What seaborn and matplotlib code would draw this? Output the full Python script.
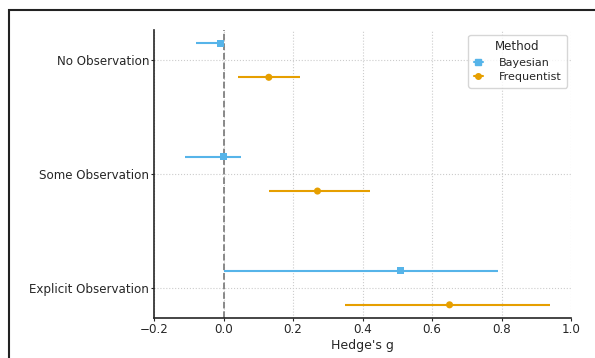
import numpy as np
import pandas as pd
import matplotlib.pyplot as plt
import seaborn as sns
from matplotlib.lines import Line2D
from matplotlib.patches import Rectangle

# Data
conditions = ["No Observation", "Some Observation", "Explicit Observation"]
methods = ["Bayesian", "Frequentist"]
bayes_est = [-0.01, 0.00, 0.51]
bayes_lo = [-0.08, -0.11, 0.00]
bayes_hi = [0.00, 0.05, 0.79]
freq_est = [0.13, 0.27, 0.65]
freq_lo = [0.04, 0.13, 0.35]
freq_hi = [0.22, 0.42, 0.94]

colors = {"Bayesian": "#56B4E9", "Frequentist": "#E69F00"}
markers = {"Bayesian": "s", "Frequentist": "o"}
offsets = {"Bayesian": -0.15, "Frequentist": 0.15}

rows = []
for m, est, lo, hi in [("Bayesian", bayes_est, bayes_lo, bayes_hi),
                       ("Frequentist", freq_est, freq_lo, freq_hi)]:
    for i, c in enumerate(conditions):
        rows.append({"Condition": c, "Method": m, "g": est[i], "lo": lo[i], "hi": hi[i],
                     "ypos": i + offsets[m]})
df = pd.DataFrame(rows)

sns.set_style("ticks")
plt.rcParams["font.family"] = ["DejaVu Sans"]

fig = plt.figure(figsize=(5.95, 3.58), dpi=100)
ax = fig.add_axes([0.259, 0.112, 0.701, 0.804])

for m in methods:
    sub = df[df["Method"] == m]
    ax.errorbar(sub["g"], sub["ypos"],
                xerr=[sub["g"] - sub["lo"], sub["hi"] - sub["g"]],
                fmt="none", ecolor=colors[m], elinewidth=1.5, zorder=2)

sns.scatterplot(data=df, x="g", y="ypos", hue="Method", style="Method",
                palette=colors, markers=markers, s=26, linewidth=0,
                ax=ax, legend=False, zorder=3)

ax.axvline(0, color="gray", linestyle="--", linewidth=1.3, zorder=1)

ax.set_xlim(-0.2, 1.0)
ax.set_xticks(np.arange(-0.2, 1.01, 0.2))
ax.set_yticks(range(len(conditions)))
ax.set_yticklabels(conditions)
ax.set_ylim(2.265, -0.265)
ax.set_xlabel("Hedge's g", fontsize=9, labelpad=2)
ax.set_ylabel("")
ax.tick_params(labelsize=8.6, length=2, direction="out", pad=1.5)
ax.grid(True, linestyle=":", color="#cccccc", linewidth=0.8)
sns.despine(ax=ax)
for s in ["left", "bottom"]:
    ax.spines[s].set_linewidth(1.2)

handles = [Line2D([0], [0], color=colors[m], marker=markers[m], markersize=4,
                  linewidth=1.5) for m in methods]
leg = ax.legend(handles, methods, title="Method", loc="upper right",
                fontsize=8, title_fontsize=8.6, handlelength=0.8,
                handletextpad=1.4, labelspacing=0.4, borderpad=0.5,
                borderaxespad=0.4, frameon=True, fancybox=True)
leg.get_frame().set_edgecolor("#cccccc")

# figure border as in the reference
fig.patches.append(Rectangle((9 / 595, -0.2), 2, 1 - 10 / 358 + 0.2,
                             transform=fig.transFigure, fill=False,
                             edgecolor="#222222", linewidth=1.5))

fig.savefig("out.png", dpi=100)
